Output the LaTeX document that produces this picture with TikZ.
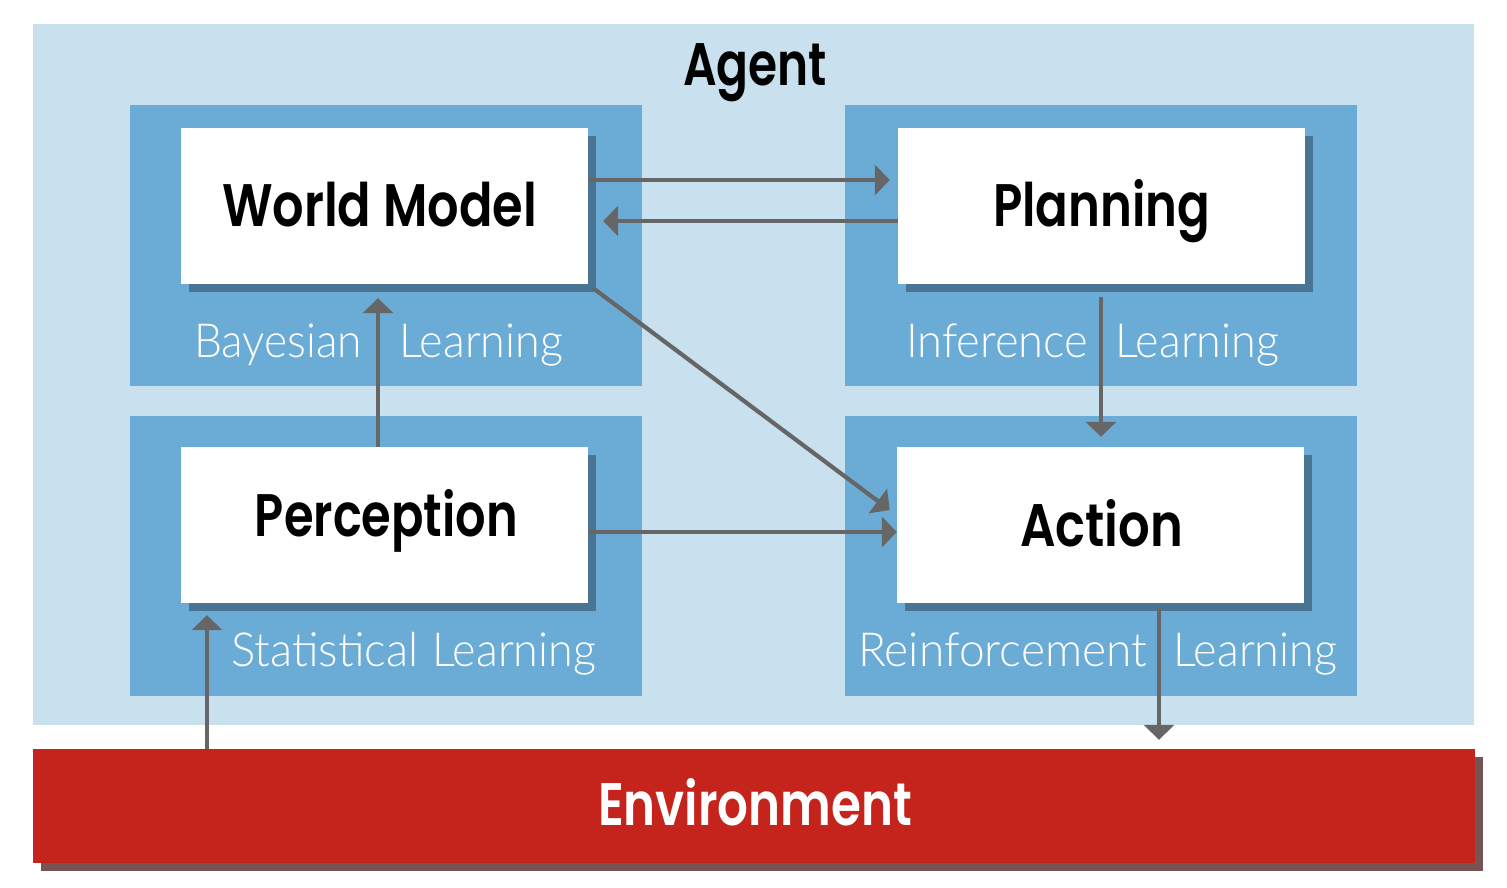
\documentclass[tikz,border=0pt]{standalone}
\usepackage{fontspec}
\usepackage{graphicx}
\usetikzlibrary{arrows.meta,shadows}
\newfontfamily\headf{Poppins}[UprightFont={* SemiBold}]
\newfontfamily\lightf{Lato Light}
\definecolor{agentbg}{HTML}{C9E0EE}
\definecolor{panel}{HTML}{6BACD7}
\definecolor{boxshadow}{HTML}{4A7592}
\definecolor{arrowc}{HTML}{666666}
\definecolor{envred}{HTML}{C5241C}
\definecolor{envshadow}{HTML}{755453}
\newcommand\fitw[2]{\resizebox{#1pt}{\height}{#2}}
\begin{document}
\begin{tikzpicture}[x=1pt,y=-1pt,
  box/.style={fill=white,inner sep=0pt,minimum width=407pt,minimum height=156pt,
    drop shadow={shadow xshift=8pt,shadow yshift=-8pt,fill=boxshadow,opacity=1}},
  envbox/.style={fill=envred,inner sep=0pt,minimum width=1442pt,minimum height=114pt,
    drop shadow={shadow xshift=8pt,shadow yshift=-8pt,fill=envshadow,opacity=1}},
  head/.style={inner sep=0pt,anchor=base,font=\headf\fontsize{60}{60}\selectfont},
  lbl/.style={inner sep=0pt,anchor=base west,text=white,font=\lightf\fontsize{47}{47}\selectfont},
  arr/.style={draw=arrowc,line width=4.2pt,-{Triangle[length=15pt,width=30pt]}}]
\useasboundingbox (0,0) rectangle (1507,887);
% agent background and panels
\fill[agentbg] (33,24) rectangle (1474,725);
\fill[panel] (130,105) rectangle (642,386);
\fill[panel] (845,105) rectangle (1357,386);
\fill[panel] (130,416) rectangle (642,696);
\fill[panel] (845,416) rectangle (1357,696);
% boxes
\node[box] (wm) at (384.5,206) {};
\node[box] (plan) at (1101.5,206) {};
\node[box] (perc) at (384,525) {};
\node[box] (act) at (1100.5,525) {};
\node[envbox] (env) at (754,806) {};
% titles
\node[head] (agentt) at (755,85) {\fitw{144}{Agent}};
\node[head] (wmt) at (379.5,226) {\fitw{315}{World Model}};
\node[head] (plant) at (1101.5,226) {\fitw{217}{Planning}};
\node[head] (perct) at (386.5,536) {\fitw{263}{Perception}};
\node[head] (actt) at (1101.5,546) {\fitw{163}{Action}};
\node[head,text=white] (envt) at (755,825) {\fitw{314}{Environment}};
% labels
\node[lbl] (l1) at (194,357) {\fitw{168}{Bayesian}};
\node[lbl] (l2) at (399,357) {\fitw{164}{Learning}};
\node[lbl] (l3) at (906,357) {\fitw{182}{Inference}};
\node[lbl] (l4) at (1115,357) {\fitw{164}{Learning}};
\node[lbl] (l5) at (231,666) {\fitw{187}{Statistical}};
\node[lbl] (l6) at (432,666) {\fitw{164}{Learning}};
\node[lbl] (l7) at (858,666) {\fitw{289}{Reinforcement}};
\node[lbl] (l8) at (1173,666) {\fitw{164}{Learning}};
% connector guides
\coordinate (xpw) at (378,0);
\coordinate (xpa) at (1101,0);
\coordinate (xae) at (1159,0);
\coordinate (xep) at (207,0);
% connectors
\draw[arr,shorten >=8pt] ([yshift=26pt]wm.east) -- ([yshift=26pt]plan.west);
\draw[arr,shorten >=15pt] ([yshift=-15pt]plan.west) -- ([yshift=-15pt]wm.east);
\draw[arr] ([xshift=5pt,yshift=-4pt]wm.south east) -- ([xshift=-7pt,yshift=15pt]act.west);
\draw[arr] ([yshift=-7pt]perc.east) -- ([yshift=-7pt]act.west);
\draw[arr,shorten >=14pt] (perc.north -| xpw) -- (wm.south -| xpw);
\draw[arr,shorten <=13pt,shorten >=10pt] (plan.south -| xpa) -- (act.north -| xpa);
\draw[arr,shorten <=4pt,shorten >=9pt] (act.south -| xae) -- (env.north -| xae);
\draw[arr,shorten >=12pt] (env.north -| xep) -- (perc.south -| xep);
\end{tikzpicture}
\end{document}
